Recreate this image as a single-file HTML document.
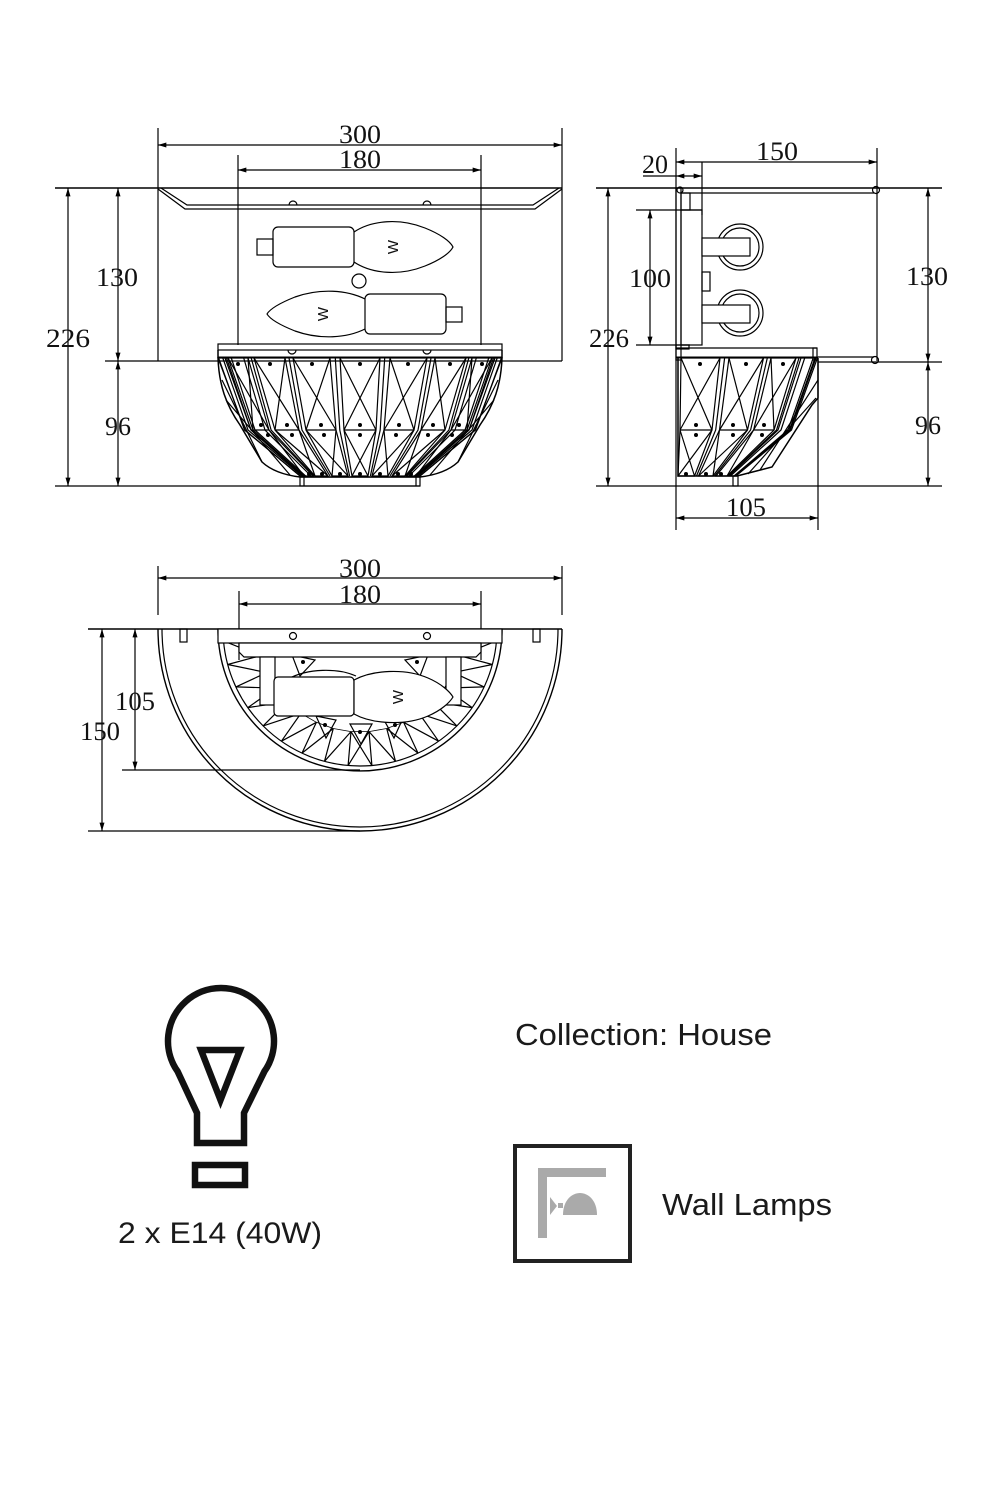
<!DOCTYPE html>
<html><head><meta charset="utf-8"><style>
html,body{margin:0;padding:0;background:#fff;}
svg{display:block;}
.d{font-family:"Liberation Serif",serif;font-size:26px;fill:#111;text-anchor:middle;}
.s{font-family:"Liberation Sans",sans-serif;fill:#1a1a1a;}
</style></head><body>
<svg width="1000" height="1500" viewBox="0 0 1000 1500" xmlns="http://www.w3.org/2000/svg">
<defs>
<marker id="ar" viewBox="0 0 10 6" refX="10" refY="3" markerWidth="9" markerHeight="5" orient="auto-start-reverse" markerUnits="userSpaceOnUse"><path d="M0,0 L10,3 L0,6 z" fill="#000"/></marker>
</defs>
<rect width="1000" height="1500" fill="#fff"/>

<!-- ================= FRONT VIEW ================= -->
<g stroke="#000" stroke-width="1.2" fill="none">
<line x1="158" y1="128" x2="158" y2="361"/>
<line x1="562" y1="128" x2="562" y2="361"/>
<line x1="158" y1="145" x2="562" y2="145" marker-start="url(#ar)" marker-end="url(#ar)"/>
<line x1="238" y1="155" x2="238" y2="345"/>
<line x1="481" y1="155" x2="481" y2="345"/>
<line x1="238" y1="170" x2="481" y2="170" marker-start="url(#ar)" marker-end="url(#ar)"/>
<line x1="55" y1="188" x2="562" y2="188" stroke-width="1.4"/>
<line x1="105" y1="361" x2="562" y2="361"/>
<line x1="55" y1="486" x2="420" y2="486"/>
<line x1="68" y1="188" x2="68" y2="486" marker-start="url(#ar)" marker-end="url(#ar)"/>
<line x1="118" y1="188" x2="118" y2="361" marker-start="url(#ar)" marker-end="url(#ar)"/>
<line x1="118" y1="361" x2="118" y2="486" marker-start="url(#ar)" marker-end="url(#ar)"/>
<!-- plate bevel -->
<path d="M158,189 L185,209 L535,209 L562,189"/>
<path d="M161,188 L187,205 L533,205 L559,188"/>
<path d="M289,205 A4,4 0 0 1 297,205 M423,205 A4,4 0 0 1 431,205"/>
<!-- bulbs -->
<rect x="257" y="239" width="16" height="16"/>
<rect x="273" y="227" width="81" height="40" rx="5"/>
<path d="M354,232 C372,220 400,218 425,228 C440,234 450,241 453,247 C450,253 440,260 425,266 C400,276 372,274 354,262"/>
<circle cx="359" cy="281" r="7"/>
<path d="M365,299 C347,290 320,288 295,297 C280,303 270,309 267,314 C270,319 280,325 295,331 C320,340 347,338 365,329"/>
<rect x="365" y="294" width="81" height="40" rx="5"/>
<rect x="446" y="307" width="16" height="15"/>
<!-- rim -->
<rect x="218" y="344" width="284" height="6"/>
<path d="M288,350 A4,4 0 0 0 296,350 M423,350 A4,4 0 0 0 431,350"/>
<line x1="218" y1="357.5" x2="502" y2="357.5" stroke-width="2"/>
<!-- outline -->
<path d="M218,350 L218,358 C219,385 226,405 240,425 L262,462 Q275,474 300,477 L420,477 Q445,474 458,462 L480,425 C494,405 501,385 502,358 L502,350" stroke-width="1.5"/>
<rect x="300" y="477" width="120" height="9"/>
<line x1="304" y1="477" x2="304" y2="486"/><line x1="416" y1="477" x2="416" y2="486"/>
</g>
<g fill="#111" class="d" stroke="none">
<text x="360" y="143" textLength="42" lengthAdjust="spacingAndGlyphs">300</text>
<text x="360" y="168" textLength="42" lengthAdjust="spacingAndGlyphs">180</text>
<text x="68" y="347" textLength="44" lengthAdjust="spacingAndGlyphs">226</text>
<text x="117" y="286" textLength="42" lengthAdjust="spacingAndGlyphs">130</text>
<text x="118" y="435">96</text>
</g>
<text x="0" y="0" transform="translate(393,247) rotate(-90)" font-family="Liberation Sans,sans-serif" font-size="15" text-anchor="middle" dy="5" fill="#111">W</text>
<text x="0" y="0" transform="translate(323,314) rotate(-90)" font-family="Liberation Sans,sans-serif" font-size="15" text-anchor="middle" dy="5" fill="#111">W</text>

<!-- front crystals -->
<g stroke="#000" stroke-width="1.2" fill="none">
<polygon points="340,358 380,358 376,430 368,476 352,476 344,430"/>
<path d="M340,358 L376,430 M380,358 L344,430 M344,430 L376,430 M344,430 L368,476 M376,430 L352,476"/>
<polygon points="390,358 427,358 414,430 388,476 372,476 384,430"/>
<path d="M390,358 L414,430 M427,358 L384,430 M384,430 L414,430 M384,430 L388,476 M414,430 L372,476"/>
<polygon points="293,358 330,358 336,430 348,476 332,476 306,430"/>
<path d="M293,358 L336,430 M330,358 L306,430 M306,430 L336,430 M306,430 L348,476 M336,430 L332,476"/>
<polygon points="435,358 466,358 445,430 405,476 392,476 421,430"/>
<path d="M435,358 L445,430 M466,358 L421,430 M421,430 L445,430 M421,430 L405,476 M445,430 L392,476"/>
<polygon points="254,358 285,358 299,430 328,476 315,476 275,430"/>
<path d="M254,358 L299,430 M285,358 L275,430 M275,430 L299,430 M275,430 L328,476 M299,430 L315,476"/>
<polygon points="472,358 492,358 467,430 416,476 407,476 451,430"/>
<path d="M472,358 L467,430 M492,358 L451,430 M451,430 L467,430 M451,430 L416,476"/>
<polygon points="228,358 248,358 269,430 313,476 304,476 253,430"/>
<path d="M228,358 L269,430 M248,358 L253,430 M253,430 L269,430 M269,430 L304,476"/>
<polygon points="495,358 502,358 475,430 420,476 417,476 469,430"/>
<polygon points="218,358 225,358 251,430 303,476 300,476 245,430"/>
<polyline points="384.7,358 380.2,430 370.4,476"/>
<polyline points="335.3,358 339.8,430 349.6,476"/>
<polyline points="431,358 418,430 390,476"/>
<polyline points="289,358 302,430 330,476"/>
<polyline points="468.8,358 448.9,430 406,476"/>
<polyline points="251.2,358 271.1,430 314,476"/>
<polyline points="476.3,358 455,430 409,476"/>
<polyline points="243.7,358 265,430 311,476"/>
<polyline points="488.7,358 465,430 414.4,476"/>
<polyline points="231.3,358 255,430 305.6,476"/>
<polyline points="493.5,358 469,430 416.4,476"/>
<polyline points="226.5,358 251,430 303.6,476"/>
<polyline points="497.2,358 472,430 418,476"/>
<polyline points="222.8,358 248,430 302,476"/>
<polyline points="501.4,358 475.5,430 419.8,476"/>
<polyline points="218.6,358 244.5,430 300.2,476"/>
<path d="M222,380 L262,462 M498,380 L458,462 M226,400 L290,475 M494,400 L430,475"/>
</g>
<g fill="#000">
<circle cx="360" cy="364" r="2"/><circle cx="408" cy="364" r="2"/><circle cx="450" cy="364" r="2"/><circle cx="482" cy="364" r="2"/>
<circle cx="312" cy="364" r="2"/><circle cx="270" cy="364" r="2"/><circle cx="238" cy="364" r="2"/>
<circle cx="360" cy="425" r="2"/><circle cx="399" cy="425" r="2"/><circle cx="433" cy="425" r="2"/><circle cx="459" cy="425" r="2"/>
<circle cx="321" cy="425" r="2"/><circle cx="287" cy="425" r="2"/><circle cx="261" cy="425" r="2"/>
<circle cx="360" cy="435" r="2"/><circle cx="396" cy="435" r="2"/><circle cx="428" cy="435" r="2"/><circle cx="452" cy="435" r="2"/>
<circle cx="324" cy="435" r="2"/><circle cx="292" cy="435" r="2"/><circle cx="268" cy="435" r="2"/>
<circle cx="360" cy="474" r="2"/><circle cx="380" cy="474" r="2"/><circle cx="398" cy="474" r="2"/><circle cx="411" cy="474" r="2"/>
<circle cx="340" cy="474" r="2"/><circle cx="322" cy="474" r="2"/><circle cx="309" cy="474" r="2"/>
</g>

<!-- ================= SIDE VIEW ================= -->
<g stroke="#000" stroke-width="1.2" fill="none">
<line x1="676" y1="148" x2="676" y2="530"/>
<line x1="877" y1="148" x2="877" y2="361"/>
<line x1="702" y1="162" x2="702" y2="215"/>
<line x1="676" y1="162" x2="877" y2="162" marker-start="url(#ar)" marker-end="url(#ar)"/>
<line x1="643" y1="176" x2="676" y2="176"/>
<line x1="676" y1="176" x2="702" y2="176" marker-start="url(#ar)" marker-end="url(#ar)"/>
<line x1="596" y1="188" x2="942" y2="188" stroke-width="1.4"/>
<line x1="681" y1="193" x2="874" y2="193"/>
<circle cx="876" cy="190" r="3.5"/>
<circle cx="680" cy="190" r="3"/>
<line x1="818" y1="357" x2="874" y2="357"/>
<line x1="818" y1="362" x2="942" y2="362"/>
<circle cx="875" cy="360" r="3.5"/>
<rect x="676" y="188" width="5" height="172"/>
<rect x="681" y="210" width="21" height="135"/>
<rect x="681" y="193" width="9" height="17"/>
<rect x="676" y="345" width="13" height="4"/>
<line x1="636" y1="210" x2="702" y2="210"/>
<line x1="636" y1="345" x2="690" y2="345"/>
<line x1="650" y1="210" x2="650" y2="345" marker-start="url(#ar)" marker-end="url(#ar)"/>
<line x1="608" y1="188" x2="608" y2="486" marker-start="url(#ar)" marker-end="url(#ar)"/>
<line x1="928" y1="188" x2="928" y2="362" marker-start="url(#ar)" marker-end="url(#ar)"/>
<line x1="928" y1="362" x2="928" y2="486" marker-start="url(#ar)" marker-end="url(#ar)"/>
<line x1="596" y1="486" x2="942" y2="486"/>
<circle cx="740" cy="247" r="23"/><circle cx="740" cy="247" r="19"/>
<rect x="702" y="238" width="48" height="18" fill="#fff"/>
<circle cx="740" cy="313" r="23"/><circle cx="740" cy="313" r="19"/>
<rect x="702" y="305" width="48" height="18" fill="#fff"/>
<rect x="702" y="272" width="8" height="19"/>
<line x1="676" y1="348" x2="817" y2="348"/>
<rect x="813" y="348" width="4" height="12"/>
<line x1="676" y1="357.5" x2="818" y2="357.5" stroke-width="2"/>
<line x1="818" y1="360" x2="818" y2="530"/>
<path d="M678,358 L678,476 L737,476 L772,467 L812,405 L818,398 L818,358" stroke-width="1.5"/>
<rect x="733" y="476" width="5" height="10"/>
<line x1="676" y1="518" x2="818" y2="518" marker-start="url(#ar)" marker-end="url(#ar)"/>
</g>
<g stroke="#000" stroke-width="1.2" fill="none">
<polygon points="681,358 720,358 712,430 694.5,476 678,476 680,430"/>
<path d="M681,358 L712,430 M720,358 L680,430 M680,430 L712,430 M680,430 L694.5,476 M712,430 L678,476"/>
<polygon points="729,358 763.5,358 747.5,430 713,476 698.5,476 719.5,430"/>
<path d="M729,358 L747.5,430 M763.5,358 L719.5,430 M719.5,430 L747.5,430 M719.5,430 L713,476 M747.5,430 L698.5,476"/>
<polygon points="771,358 796,358 774,430 727,476 716,476 753.6,430"/>
<path d="M771,358 L774,430 M796,358 L753.6,430 M753.6,430 L774,430 M753.6,430 L727,476"/>
<polygon points="801,358 815,358 789.5,430 734.7,476 729,476 778,430"/>
<polyline points="724.6,358 715.7,430 696.5,476"/>
<polyline points="767.3,358 750.6,430 714.6,476"/>
<polyline points="799,358 776.5,430 728,476"/>
<polyline points="804.7,358 781,430 730.4,476"/>
<polyline points="813.2,358 788,430 734,476"/>
<polyline points="815.9,358 790.3,430 735,476"/>
<polyline points="817.4,358 791.5,430 735.8,476"/>
<path d="M818,380 L760,470 M816,398 L748,474"/>
</g>
<g fill="#000">
<circle cx="700" cy="364" r="2"/><circle cx="746" cy="364" r="2"/><circle cx="783" cy="364" r="2"/>
<circle cx="696" cy="425" r="2"/><circle cx="733" cy="425" r="2"/><circle cx="764" cy="425" r="2"/>
<circle cx="696" cy="435" r="2"/><circle cx="733" cy="435" r="2"/><circle cx="762" cy="435" r="2"/>
<circle cx="686" cy="474" r="2"/><circle cx="706" cy="474" r="2"/><circle cx="721" cy="474" r="2"/>
</g>
<g class="d">
<text x="777" y="160" textLength="42" lengthAdjust="spacingAndGlyphs">150</text>
<text x="655" y="173">20</text>
<text x="650" y="287" textLength="42" lengthAdjust="spacingAndGlyphs">100</text>
<text x="609" y="347" textLength="40" lengthAdjust="spacingAndGlyphs">226</text>
<text x="927" y="285" textLength="42" lengthAdjust="spacingAndGlyphs">130</text>
<text x="928" y="434">96</text>
<text x="746" y="516" textLength="40" lengthAdjust="spacingAndGlyphs">105</text>
</g>

<!-- ================= TOP VIEW ================= -->
<g stroke="#000" stroke-width="1.2" fill="none">
<line x1="158" y1="566" x2="158" y2="615"/>
<line x1="562" y1="566" x2="562" y2="615"/>
<line x1="158" y1="578" x2="562" y2="578" marker-start="url(#ar)" marker-end="url(#ar)"/>
<line x1="239" y1="591" x2="239" y2="660"/>
<line x1="481" y1="591" x2="481" y2="660"/>
<line x1="239" y1="604" x2="481" y2="604" marker-start="url(#ar)" marker-end="url(#ar)"/>
<line x1="88" y1="629" x2="562" y2="629" stroke-width="1.4"/>
<line x1="102" y1="629" x2="102" y2="831" marker-start="url(#ar)" marker-end="url(#ar)"/>
<line x1="135" y1="629" x2="135" y2="770" marker-start="url(#ar)" marker-end="url(#ar)"/>
<line x1="122" y1="770" x2="360" y2="770"/>
<line x1="88" y1="831" x2="360" y2="831"/>
<path d="M158,629 A202,202 0 0 0 562,629" stroke-width="1.4"/>
<path d="M162,629 A198,198 0 0 0 558,629"/>
<rect x="180" y="629" width="7" height="13"/>
<rect x="533" y="629" width="7" height="13"/>
<path d="M218,629 A142,142 0 0 0 502,629" stroke-width="1.4"/>
<path d="M223,629 A137,137 0 0 0 497,629"/>
<path d="M496.5,640.9 L462.6,638.0 M492.3,664.5 L459.5,655.7 M484.1,686.9 L453.3,672.6 M472.2,707.6 L444.4,688.1 M456.9,725.9 L432.8,701.8 M438.6,741.2 L419.1,713.4 M418.0,753.1 L403.6,722.3 M395.5,761.3 L386.7,728.5 M371.9,765.5 L369.0,731.6 M348.1,765.5 L351.0,731.6 M324.5,761.3 L333.3,728.5 M302.0,753.1 L316.4,722.3 M281.4,741.2 L300.9,713.4 M263.1,725.9 L287.2,701.8 M247.8,707.6 L275.6,688.1 M235.9,686.9 L266.7,672.6 M227.7,664.5 L260.5,655.7 M223.5,640.9 L257.4,638.0"/>
<path d="M496.5,640.9 L459.5,655.7 M492.3,664.5 L453.3,672.6 M484.1,686.9 L444.4,688.1 M472.2,707.6 L432.8,701.8 M456.9,725.9 L419.1,713.4 M438.6,741.2 L403.6,722.3 M418.0,753.1 L386.7,728.5 M395.5,761.3 L369.0,731.6 M371.9,765.5 L351.0,731.6 M348.1,765.5 L369.0,731.6 M324.5,761.3 L351.0,731.6 M302.0,753.1 L333.3,728.5 M281.4,741.2 L316.4,722.3 M263.1,725.9 L300.9,713.4 M247.8,707.6 L287.2,701.8 M235.9,686.9 L275.6,688.1 M227.7,664.5 L266.7,672.6 M223.5,640.9 L260.5,655.7"/>
<path d="M462.6,638.0 L459.5,655.7 L453.3,672.6 L444.4,688.1 L432.8,701.8 L419.1,713.4 L403.6,722.3 L386.7,728.5 L369.0,731.6 L351.0,731.6 L333.3,728.5 L316.4,722.3 L300.9,713.4 L287.2,701.8 L275.6,688.1 L266.7,672.6 L260.5,655.7 L257.4,638.0" stroke-width="0.8"/>
<polygon points="316,716 336,720 326,738"/>
<polygon points="350,724 372,724 361,744"/>
<polygon points="384,720 404,716 394,738"/>
<polygon points="292,655 315,660 300,676"/>
<polygon points="428,655 405,660 420,676"/>
<!-- bracket -->
<rect x="218" y="629" width="284" height="14" fill="#fff"/>
<circle cx="293" cy="636" r="3.5"/><circle cx="427" cy="636" r="3.5"/>
<polygon points="239,643 481,643 481,652 476,657 244,657 239,652" fill="#fff"/>
<rect x="260" y="657" width="15" height="48" fill="#fff"/>
<rect x="446" y="657" width="15" height="48" fill="#fff"/>
<path d="M288,679 C308,668 338,668 356,676"/>
<rect x="274" y="677" width="80" height="39" rx="4" fill="#fff"/>
<path d="M354,680 C372,670 405,668 428,678 C442,684 450,692 453,697 C450,702 442,710 428,716 C405,726 372,724 354,714 Z" fill="#fff"/>
</g>
<g fill="#000">
<circle cx="303" cy="662" r="2"/><circle cx="417" cy="662" r="2"/><circle cx="325" cy="725" r="2"/><circle cx="360" cy="732" r="2"/><circle cx="395" cy="725" r="2"/>
</g>
<text x="0" y="0" transform="translate(398,697) rotate(-90)" font-family="Liberation Sans,sans-serif" font-size="15" text-anchor="middle" dy="5" fill="#111">W</text>
<g class="d">
<text x="360" y="577" textLength="42" lengthAdjust="spacingAndGlyphs">300</text>
<text x="360" y="603" textLength="42" lengthAdjust="spacingAndGlyphs">180</text>
<text x="135" y="710" textLength="40" lengthAdjust="spacingAndGlyphs">105</text>
<text x="100" y="740" textLength="40" lengthAdjust="spacingAndGlyphs">150</text>
</g>

<!-- ================= BULB ICON ================= -->
<g stroke="#111" stroke-width="6.5" fill="none" stroke-linejoin="miter">
<path d="M197,1143 L197,1113 L177.6,1071.4 A53,53 0 1 1 264.4,1071.4 L244,1113 L244,1143 Z"/>
<polygon points="201,1050 240,1050 220.5,1100"/>
<rect x="195" y="1165" width="50" height="20"/>
</g>
<text class="s" x="118" y="1243" font-size="30" textLength="204" lengthAdjust="spacingAndGlyphs">2 x E14 (40W)</text>

<!-- ================= COLLECTION / TYPE ================= -->
<text class="s" x="515" y="1045" font-size="31" textLength="257" lengthAdjust="spacingAndGlyphs">Collection: House</text>
<rect x="515" y="1146" width="115" height="115" fill="none" stroke="#222" stroke-width="4"/>
<g fill="#aaa">
<rect x="538" y="1168" width="9" height="70"/>
<rect x="538" y="1168" width="68" height="9"/>
<path d="M563,1215 C563,1200 572,1193 580,1193 C588,1193 597,1200 597,1215 Z"/>
<polygon points="550,1197 550,1215 557,1206"/>
<rect x="558" y="1203" width="5" height="5"/>
</g>
<text class="s" x="662" y="1215" font-size="31" textLength="170" lengthAdjust="spacingAndGlyphs">Wall Lamps</text>
</svg>
</body></html>
